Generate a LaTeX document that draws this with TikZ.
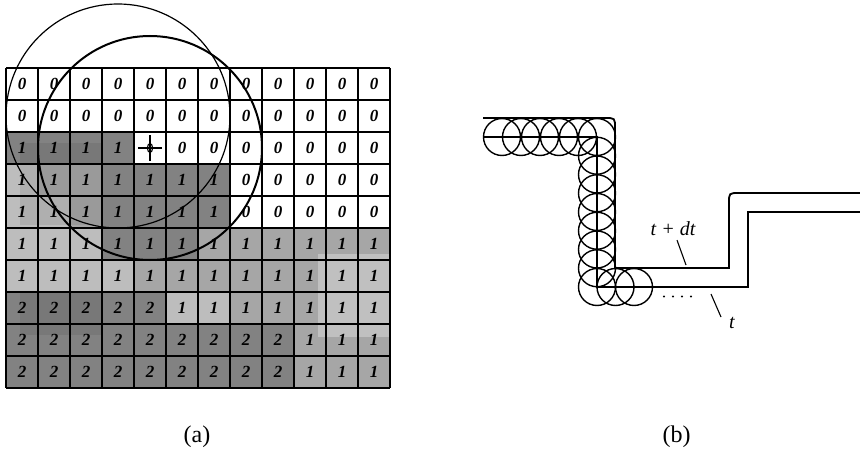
\documentclass[tikz,border=0pt]{standalone}
\usepackage{fontspec}
\setmainfont{Liberation Serif}
\usetikzlibrary{positioning}
\colorlet{shw}{white}
\colorlet{shl}{black!26}
\colorlet{shm}{black!35}
\colorlet{shd}{black!49}
\tikzset{
    digit/.style={font=\fontsize{17}{17}\selectfont\bfseries\itshape, inner sep=0pt},
    gridline/.style={line width=1.3pt},
    lens/.style={line width=1.2pt},
    lensbold/.style={line width=2pt},
    contour/.style={line width=1.8pt},
    probe/.style={line width=1.4pt},
    leader/.style={line width=1.1pt},
    caption/.style={font=\fontsize{24}{24}\selectfont, inner sep=1pt},
    tlabel/.style={font=\fontsize{20}{20}\selectfont\itshape, inner sep=2pt},
}

\begin{document}
\begin{tikzpicture}[x=1pt, y=-1pt]
    \useasboundingbox (0,0) rectangle (860,452);

    % (a) labelled grid
    \begin{scope}[shift={(6,68)}, x=32pt, y=-32pt]
        \foreach \shades [count=\r from 0] in {
            {w,w,w,w,w,w,w,w,w,w,w,w},
            {w,w,w,w,w,w,w,w,w,w,w,w},
            {d,d,d,d,w,w,w,w,w,w,w,w},
            {l,m,m,d,d,d,d,w,w,w,w,w},
            {l,l,m,d,d,d,d,w,w,w,w,w},
            {l,l,l,d,d,d,m,m,m,m,m,m},
            {l,l,l,l,m,m,m,m,m,m,m,m},
            {d,d,d,d,d,l,l,m,m,m,m,m},
            {d,d,d,d,d,d,d,d,d,m,m,m},
            {d,d,d,d,d,d,d,d,d,m,m,m}}
        {
            \foreach \s [count=\c from 0] in \shades
                \fill[sh\s] (\c,\r) rectangle ++(1,1);
        }
        \fill[black, opacity=.07] (.45,2.35) rectangle (3,4.9);
        \fill[black, opacity=.07] (.45,7) rectangle (3,8.35);
        \fill[white, opacity=.3] (9.75,5.8) rectangle (12,8.4);

        \foreach \k in {0,...,12}
            \draw[gridline] (\k,0) -- (\k,10);
        \foreach \k in {0,...,10}
            \draw[gridline] (0,\k) -- (12,\k);

        \foreach \vals [count=\r from 0] in {
            {0,0,0,0,0,0,0,0,0,0,0,0},
            {0,0,0,0,0,0,0,0,0,0,0,0},
            {1,1,1,1,-,0,0,0,0,0,0,0},
            {1,1,1,1,1,1,1,0,0,0,0,0},
            {1,1,1,1,1,1,1,0,0,0,0,0},
            {1,1,1,1,1,1,1,1,1,1,1,1},
            {1,1,1,1,1,1,1,1,1,1,1,1},
            {2,2,2,2,2,1,1,1,1,1,1,1},
            {2,2,2,2,2,2,2,2,2,1,1,1},
            {2,2,2,2,2,2,2,2,2,1,1,1}}
        {
            \foreach \v [count=\c from 0] in \vals
                \node[digit] (v\r-\c) at (\c+.5,\r+.5) {\if\v-\else\v\fi};
        }

        % cursor
        \draw[line width=1.2pt] (4.12,2.5) -- (4.88,2.5) (4.5,2.1) -- (4.5,2.9);
        \draw[line width=1.1pt] (4.5,2.5) ellipse [x radius=.08, y radius=.14];

        \draw[lens] (3.5,1.5) circle [radius=3.5];
        \draw[lensbold] (4.5,2.5) circle [radius=3.5];
    \end{scope}

    % (b) contour swept by disks
    \draw[contour] (483,118) -- (605,118) .. controls (615,118) .. (615,128)
        -- (615,268) -- (729,268) -- (729,203) .. controls (729,193) .. (739,193) -- (860,193);
    \draw[contour] (483,137) -- (597,137) -- (597,287) -- (748,287) -- (748,212) -- (860,212);
    \foreach \i in {0,...,5}
        \draw[probe] (502+19*\i,137) circle [radius=18.5];
    \foreach \j in {1,...,8}
        \draw[probe] (597,137+18.75*\j) circle [radius=18.5];
    \foreach \i in {1,2}
        \draw[probe] (597+18.5*\i,287) circle [radius=18.5];
    \foreach \i in {0,...,3}
        \fill (664+9*\i,296.5) circle [radius=1.2];

    \node[tlabel] (tdt) at (673,229) {t + dt};
    \node[tlabel] (tnow) at (732,323) {t};
    \coordinate (tdtfoot) at (686,265);
    \coordinate (tnowtip) at (711,294);
    \coordinate (tnowfoot) at (721,317);
    \draw[leader, shorten <=2pt] (tdt) -- (tdtfoot);
    \draw[leader] (tnowtip) -- (tnowfoot);

    \node[caption] (capa) at (197,437) {(a)};
    \node[caption, right=450pt of capa] (capb) {(b)};
\end{tikzpicture}
\end{document}
